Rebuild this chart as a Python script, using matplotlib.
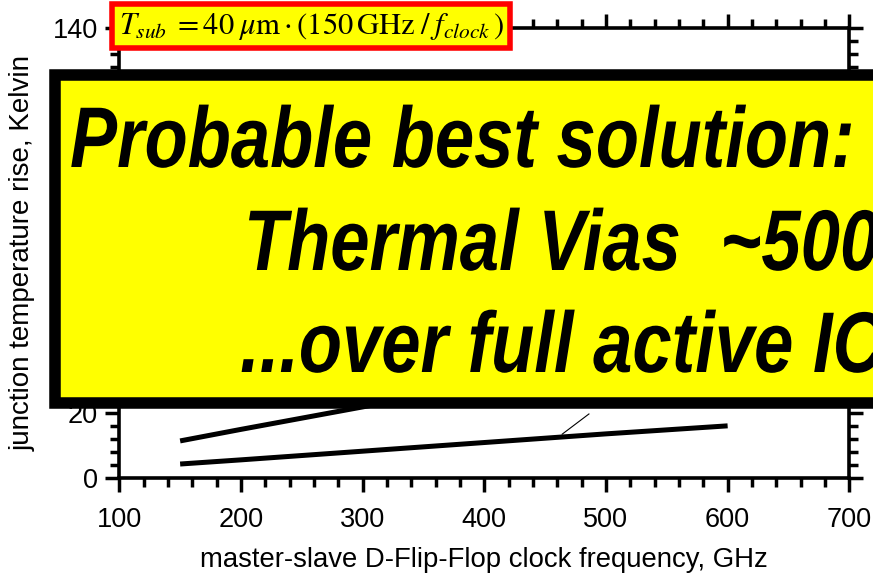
import matplotlib
matplotlib.use('Agg')
import matplotlib.pyplot as plt
from matplotlib.patches import Rectangle
from matplotlib.patheffects import AbstractPathEffect
from matplotlib.ticker import MultipleLocator
from matplotlib.transforms import Affine2D

plt.rcParams['font.family'] = ['Liberation Sans', 'DejaVu Sans']
plt.rcParams['mathtext.fontset'] = 'stix'

# junction temperature rise vs clock frequency
freq = [150, 200, 300, 400, 500, 600]
rise_low = [4.2, 5.5, 8.2, 10.9, 13.6, 16.1]
rise_high = [11.4, 15.0, 22.0, 29.0, 36.0, 43.0]
# leader line from the lower curve
leader_x = [464, 486]
leader_y = [13.5, 19.8]


class Narrow(AbstractPathEffect):
    """Squeeze glyphs horizontally about a fixed x (pixels), like a narrow face."""

    def __init__(self, x0, sx=0.82):
        super().__init__()
        self.x0, self.sx = x0, sx

    def draw_path(self, renderer, gc, tpath, affine, rgbFace=None):
        squeeze = Affine2D().translate(-self.x0, 0).scale(self.sx, 1).translate(self.x0, 0)
        renderer.draw_path(gc, tpath, affine + squeeze, rgbFace)


W, H = 873, 575
fig = plt.figure(figsize=(W / 100, H / 100), dpi=100)
ax = fig.add_axes([119.3 / W, 1 - 477.5 / H, 730 / W, 449.2 / H])

ax.plot(freq, rise_low, color='black', lw=3.6, solid_capstyle='butt')
ax.plot(freq, rise_high, color='black', lw=3.6, solid_capstyle='butt')
ax.plot(leader_x, leader_y, color='black', lw=0.8)

ax.set_xlim(100, 700)
ax.set_ylim(0, 140)
ax.xaxis.set_major_locator(MultipleLocator(100))
ax.xaxis.set_minor_locator(MultipleLocator(20))
ax.yaxis.set_major_locator(MultipleLocator(20))
ax.yaxis.set_minor_locator(MultipleLocator(4))
ax.tick_params(which='both', direction='out', top=True, right=True, width=2.5)
ax.tick_params(which='major', length=10.3)
ax.tick_params(which='minor', length=6.7)
ax.tick_params(axis='x', which='major', labelsize=19.5, pad=11)
ax.tick_params(axis='y', which='major', labelsize=19.5, pad=5)
for sp in ax.spines.values():
    sp.set_linewidth(2.6)

ax.set_xlabel('master-slave D-Flip-Flop clock frequency, GHz', fontsize=19.8, labelpad=10)
ax.set_ylabel('junction temperature rise, Kelvin', fontsize=20, labelpad=12)

# overlay callout
box = Rectangle((55 / W, 1 - 403 / H), 1.2, 328 / H, transform=fig.transFigure,
                facecolor='#ffff00', edgecolor='black', lw=8.3, zorder=10)
fig.patches.append(box)
lines = ['Probable best solution:', 'Thermal Vias  ~500', '...over full active IC']
line_x = [70, 244, 240]
line_base = [167, 270, 372]
for s, x, yb in zip(lines, line_x, line_base):
    fig.text(x / W, 1 - yb / H, s, fontsize=62, fontweight='bold', style='italic',
             va='baseline', ha='left', zorder=11, path_effects=[Narrow(x)])

fig.text(311 / W, 1 - 26 / H,
         r'$T_{sub}\;=40\;\mu\mathrm{m}\cdot(150\,\mathrm{GHz}\;/\;f_{clock}\,)$',
         fontsize=22, ha='center', va='center', zorder=12,
         bbox=dict(boxstyle='square,pad=0.22', facecolor='#ffff00',
                   edgecolor='#ff0000', lw=4))

fig.savefig('out.png', dpi=100)
